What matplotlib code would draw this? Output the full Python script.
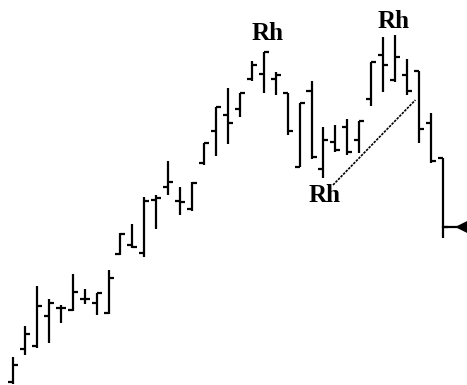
import numpy as np
import matplotlib.pyplot as plt

# ============================================================
# DATOS OHLC (unidades arbitrarias)
# ============================================================

maximos = [28, 59, 99, 86, 80, 111, 96, 92, 115, 152, 161, 188, 190, 224,
           198, 203, 242, 278, 297, 292, 324, 333, 313, 292, 282, 304, 258,
           260, 266, 264, 323, 348, 350, 326, 314, 272, 227]
minimos = [1, 30, 37, 42, 62, 74, 81, 70, 71, 130, 137, 128, 156, 190,
           170, 174, 220, 229, 241, 268, 304, 292, 290, 250, 218, 226, 207,
           233, 230, 232, 279, 293, 303, 290, 242, 222, 147]
aperturas = [3, 36, 39, 69, 77, 75, 86, 82, 72, 131, 140, 132, 185, 198,
             184, 176, 222, 254, 270, 276, 306, 311, 306, 292, 218, 294, 216,
             243, 258, 245, 286, 330, 305, 310, 314, 262, 227]
cierres = [20, 51, 79, 82, 77, 93, 86, 92, 107, 151, 138, 184, 187, 203,
           183, 202, 242, 278, 262, 292, 320, 333, 310, 254, 282, 228, 245,
           235, 233, 264, 323, 320, 328, 294, 256, 224, 158]

# linea de tendencia (indice de barra, precio)
linea_x = [26.8, 33.7]
linea_y = [200, 285]

etiqueta = "Rh"

# ============================================================
# GRAFICA
# ============================================================

n = len(maximos)
x = np.arange(n)
w = 0.42

fig = plt.figure(figsize=(4.67, 3.85), dpi=100)
ax = fig.add_axes([0, 0, 1, 1])

ax.vlines(x, minimos, maximos, color="black", lw=1.6)
ax.hlines(aperturas, x - w, x, color="black", lw=1.6)
ax.hlines(cierres, x, x + w, color="black", lw=1.6)

# flecha al cierre de la ultima barra
ax.plot([x[-1], x[-1] + 1.86], [cierres[-1], cierres[-1]], color="black", lw=1.6)
ax.annotate("", xy=(x[-1] + 0.8, cierres[-1]), xytext=(x[-1] + 1.9, cierres[-1]),
            arrowprops=dict(arrowstyle="-|>", color="black", lw=1.6,
                            mutation_scale=18))

ax.plot(linea_x, linea_y, color="black", lw=1.2, linestyle=(0, (1.5, 0.7)))

fuente = dict(family="Liberation Serif", fontweight="bold", fontsize=18,
              ha="center", va="center")
ax.text(21.3, 351, etiqueta, **fuente)
ax.text(31.9, 364, etiqueta, **fuente)
ax.text(26.1, 189, etiqueta, **fuente)

ax.set_xlim(-13 / 11.94, (467 - 13) / 11.94)
ax.set_ylim(0, 385)
ax.axis("off")

plt.savefig("out.png", dpi=100)
plt.close()
